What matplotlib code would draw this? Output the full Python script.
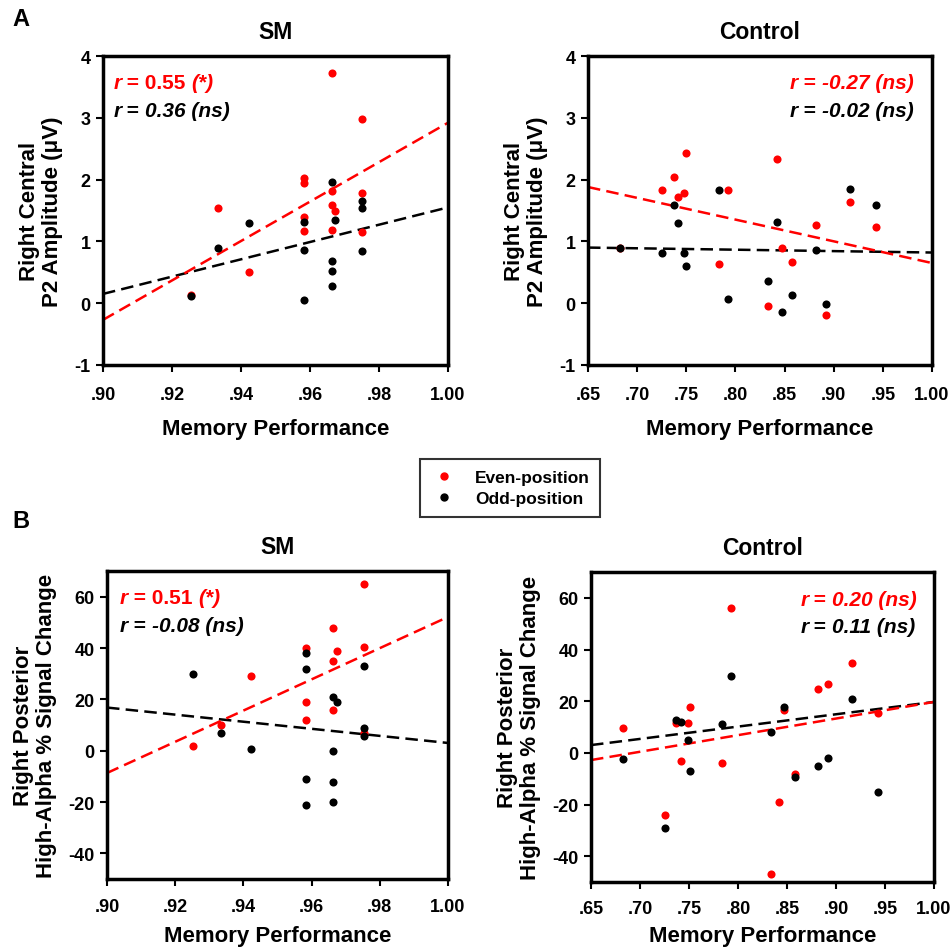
import numpy as np
import matplotlib
matplotlib.use('Agg')
import matplotlib.pyplot as plt
from matplotlib.ticker import FuncFormatter, MultipleLocator

plt.rcParams['font.family'] = ['Liberation Sans', 'DejaVu Sans']
plt.rcParams['font.weight'] = 'bold'
plt.rcParams['axes.unicode_minus'] = False

# ---- data ----
# A: SM, right central P2 amplitude
sm_p2_even_x = [0.9664, 0.9752, 0.9333, 0.9423, 0.9583, 0.9583, 0.9583, 0.9583,
                0.9664, 0.9664, 0.9673, 0.9664, 0.9752, 0.9752, 0.9254]
sm_p2_even_y = [3.73, 2.98, 1.535, 0.51, 2.02, 1.95, 1.40, 1.17,
                1.81, 1.59, 1.50, 1.18, 1.78, 1.16, 0.14]
sm_p2_odd_x = [0.9254, 0.9333, 0.9423, 0.9583, 0.9583, 0.9583, 0.9664, 0.9673,
               0.9664, 0.9664, 0.9664, 0.9752, 0.9752, 0.9752]
sm_p2_odd_y = [0.12, 0.89, 1.29, 1.31, 0.86, 0.05, 1.96, 1.34,
               0.69, 0.52, 0.28, 1.66, 1.535, 0.84]

# A: Control, right central P2 amplitude
ct_p2_even_x = [0.6827, 0.7248, 0.737, 0.742, 0.748, 0.750, 0.783, 0.792,
                0.833, 0.842, 0.847, 0.858, 0.882, 0.892, 0.917, 0.943]
ct_p2_even_y = [0.89, 1.83, 2.05, 1.72, 1.79, 2.43, 0.63, 1.83,
                -0.04, 2.34, 0.89, 0.66, 1.26, -0.19, 1.64, 1.24]
ct_p2_odd_x = [0.6827, 0.7248, 0.737, 0.742, 0.748, 0.750, 0.783, 0.792,
               0.833, 0.842, 0.847, 0.858, 0.882, 0.892, 0.917, 0.943]
ct_p2_odd_y = [0.90, 0.81, 1.59, 1.29, 0.82, 0.61, 1.83, 0.07,
               0.36, 1.32, -0.15, 0.13, 0.86, -0.02, 1.85, 1.59]

# B: SM, right posterior high-alpha % signal change
sm_al_even_x = [0.9754, 0.9664, 0.9674, 0.9664, 0.9754, 0.9584, 0.9423, 0.9584,
                0.9584, 0.9664, 0.9333, 0.9252, 0.9754]
sm_al_even_y = [65.0, 47.9, 38.9, 35.0, 40.2, 40.0, 28.9, 18.8,
                11.9, 15.9, 10.0, 1.8, 7.0]
sm_al_odd_x = [0.9252, 0.9333, 0.9423, 0.9584, 0.9584, 0.9584, 0.9584, 0.9664,
               0.9674, 0.9664, 0.9664, 0.9664, 0.9754, 0.9754, 0.9754]
sm_al_odd_y = [29.8, 6.9, 0.6, 38.0, 32.0, -11.0, -21.1, 21.1,
               18.9, -0.1, -12.2, -19.9, 32.9, 8.9, 5.8]

# B: Control, right posterior high-alpha % signal change
ct_al_even_x = [0.6827, 0.7252, 0.737, 0.749, 0.7508, 0.742, 0.7838, 0.793,
                0.8335, 0.8423, 0.847, 0.858, 0.882, 0.892, 0.9165, 0.9424]
ct_al_even_y = [9.8, -24.1, 11.6, 11.7, 17.7, -3.2, -4.1, 55.9,
                -47.0, -19.1, 16.5, -8.1, 24.8, 26.8, 34.7, 15.5]
ct_al_odd_x = [0.6827, 0.7252, 0.737, 0.742, 0.749, 0.7508, 0.7838, 0.793,
               0.8335, 0.847, 0.858, 0.882, 0.892, 0.9165, 0.9424]
ct_al_odd_y = [-2.2, -29.2, 12.8, 12.0, 4.8, -7.1, 11.0, 29.7,
               7.9, 17.9, -9.2, -5.0, -2.1, 20.8, -15.1]

# fitted trend lines as shown: value at the left and right end of the x axis
sm_p2_even_fit = [-0.27, 2.92]
sm_p2_odd_fit = [0.15, 1.55]
ct_p2_even_fit = [1.88, 0.65]
ct_p2_odd_fit = [0.90, 0.82]
sm_al_even_fit = [-8.7, 52.1]
sm_al_odd_fit = [16.8, 3.0]
ct_al_even_fit = [-2.8, 19.7]
ct_al_odd_fit = [3.0, 19.7]

r_labels = {
    'A_sm': [('0.55', '(*)'), ('0.36', '(ns)')],
    'A_ct': [('-0.27', '(ns)'), ('-0.02', '(ns)')],
    'B_sm': [('0.51', '(*)'), ('-0.08', '(ns)')],
    'B_ct': [('0.20', '(ns)'), ('0.11', '(ns)')],
}

RED = '#ff0000'
W, H = 950, 953


def px_axes(fig, left, top, right, bottom):
    return fig.add_axes([left / W, 1 - bottom / H, (right - left) / W, (bottom - top) / H])


def tick_fmt(v, pos):
    s = f'{v:.2f}'
    return s[1:] if s.startswith('0') else s


def rich_line(ax, x, y, pieces, color):
    # draws text pieces one after another; pieces = [(text, style), ...]
    prev = ax.text(x, y, pieces[0][0], transform=ax.transAxes, color=color,
                   fontsize=15, fontweight='bold', style=pieces[0][1], va='baseline')
    for txt, st in pieces[1:]:
        prev = ax.annotate(txt, xy=(1, 0), xycoords=prev, color=color, fontsize=15,
                           fontweight='bold', style=st, va='bottom')


def panel(ax, ex, ey, ox, oy, efit, ofit, xlim, ylim, xstep, ystep, title, ylabel, rtxt, x0,
          xpad=10, xlabelpad=11):
    ax.plot(xlim, ofit, ls=(0, (5, 2.5)), color='black', lw=1.8, zorder=2)
    ax.plot(xlim, efit, ls=(0, (5, 2.5)), color=RED, lw=1.8, zorder=2)
    ax.scatter(ex, ey, s=34, color=RED, zorder=3, linewidths=0)
    ax.scatter(ox, oy, s=34, color='black', zorder=4, linewidths=0)
    ax.set_xlim(xlim)
    ax.set_ylim(ylim)
    ax.xaxis.set_major_locator(MultipleLocator(xstep))
    ax.yaxis.set_major_locator(MultipleLocator(ystep))
    ax.xaxis.set_major_formatter(FuncFormatter(tick_fmt))
    for sp in ax.spines.values():
        sp.set_linewidth(2.5)
    ax.tick_params(direction='out', length=5, width=1.5, labelsize=13)
    ax.tick_params(axis='x', pad=xpad)
    ax.tick_params(axis='y', pad=4)
    for lab in ax.get_xticklabels() + ax.get_yticklabels():
        lab.set_fontweight('bold')
    ax.set_title(title, fontsize=16.5, fontweight='bold', pad=13)
    ax.set_xlabel('Memory Performance', fontsize=16, fontweight='bold', labelpad=xlabelpad)
    ax.set_ylabel(ylabel, fontsize=16, fontweight='bold', labelpad=8, linespacing=1.15)

    (rv, rs), (bv, bs) = rtxt
    if rs == '(*)':
        red_pieces = [('r', 'italic'), (' = ' + rv + ' ', 'normal'), (rs, 'italic')]
    else:
        red_pieces = [('r', 'italic'), (' = ', 'normal'), (rv + ' ' + rs, 'italic')]
    black_pieces = [('r', 'italic'), (' = ', 'normal'), (bv + ' ' + bs, 'italic')]
    rich_line(ax, x0, 0.895, red_pieces, RED)
    rich_line(ax, x0, 0.805, black_pieces, 'black')


fig = plt.figure(figsize=(9.5, 9.53), dpi=100)

ax1 = px_axes(fig, 103, 57, 448, 366)
panel(ax1, sm_p2_even_x, sm_p2_even_y, sm_p2_odd_x, sm_p2_odd_y, sm_p2_even_fit, sm_p2_odd_fit,
      (0.90, 1.00), (-1, 4), 0.02, 1, 'SM', 'Right Central\nP2 Amplitude (\u03bcV)',
      r_labels['A_sm'], 0.03)

ax2 = px_axes(fig, 588, 57, 932, 366)
panel(ax2, ct_p2_even_x, ct_p2_even_y, ct_p2_odd_x, ct_p2_odd_y, ct_p2_even_fit, ct_p2_odd_fit,
      (0.65, 1.00), (-1, 4), 0.05, 1, 'Control', 'Right Central\nP2 Amplitude (\u03bcV)',
      r_labels['A_ct'], 0.587)

ax3 = px_axes(fig, 107, 572, 448, 880)
panel(ax3, sm_al_even_x, sm_al_even_y, sm_al_odd_x, sm_al_odd_y, sm_al_even_fit, sm_al_odd_fit,
      (0.90, 1.00), (-50, 70), 0.02, 20, 'SM', 'Right Posterior\nHigh-Alpha % Signal Change',
      r_labels['B_sm'], 0.038, xpad=9, xlabelpad=7)

ax4 = px_axes(fig, 591, 573, 934, 883)
panel(ax4, ct_al_even_x, ct_al_even_y, ct_al_odd_x, ct_al_odd_y, ct_al_even_fit, ct_al_odd_fit,
      (0.65, 1.00), (-50, 70), 0.05, 20, 'Control', 'Right Posterior\nHigh-Alpha % Signal Change',
      r_labels['B_ct'], 0.61, xpad=8, xlabelpad=6)

fig.text(12 / W, 1 - 19 / H, 'A', fontsize=17, fontweight='bold', va='center')
fig.text(12 / W, 1 - 521 / H, 'B', fontsize=17, fontweight='bold', va='center')

h1 = plt.Line2D([], [], ls='none', marker='o', color=RED, markersize=5)
h2 = plt.Line2D([], [], ls='none', marker='o', color='black', markersize=5)
leg = fig.legend([h1, h2], ['Even-position', 'Odd-position'], loc='center',
                 bbox_to_anchor=(510 / W, 1 - 489 / H), frameon=True, fancybox=False,
                 prop={'weight': 'bold', 'size': 12.5}, handletextpad=1.0,
                 borderpad=0.6, labelspacing=0.35, handlelength=1.6, borderaxespad=0)
leg.get_frame().set_edgecolor('black')
leg.get_frame().set_linewidth(1.5)

fig.savefig('out.png', dpi=100)
